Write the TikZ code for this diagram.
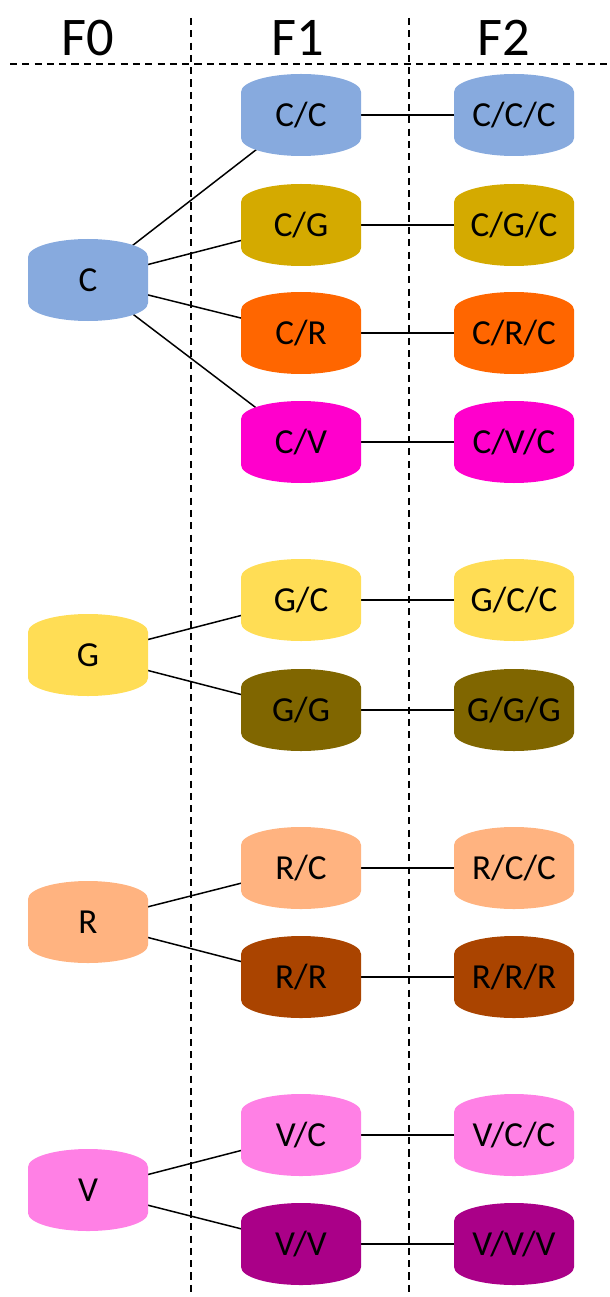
\documentclass[tikz,border=0pt]{standalone}
\usepackage{fontspec}
\setmainfont{Carlito}
\usetikzlibrary{backgrounds}
\definecolor{cC}{HTML}{87AADE}
\definecolor{cG}{HTML}{FFDD55}
\definecolor{cR}{HTML}{FFB380}
\definecolor{cV}{HTML}{FF80E5}
\definecolor{cCG}{HTML}{D4AA00}
\definecolor{cCR}{HTML}{FF6600}
\definecolor{cCV}{HTML}{FF00CC}
\definecolor{cGG}{HTML}{806600}
\definecolor{cRR}{HTML}{AA4400}
\definecolor{cVV}{HTML}{AA0088}
\tikzset{
 barrel/.pic={\path[pic actions] (-60,-23) .. controls (-60,-33) and (-33,-41) .. (0,-41)
  .. controls (33,-41) and (60,-33) .. (60,-23) -- (60,23)
  .. controls (60,33) and (33,41) .. (0,41)
  .. controls (-33,41) and (-60,33) .. (-60,23) -- cycle;},
 cell/.style={rectangle,minimum width=2.4cm,minimum height=1.64cm,inner sep=0pt,
  font=\fontsize{20}{22}\selectfont},
 head/.style={font=\fontsize{31}{34}\selectfont},
 link/.style={line width=0.85pt},
 sep/.style={line width=1.1pt,dash pattern=on 4pt off 3pt}
}
\begin{document}
\begin{tikzpicture}[x=0.02cm,y=-0.02cm]
 \useasboundingbox (0,0) rectangle (609,1297);
 \draw[sep](10,64)--(609,64);
 \draw[sep](191,18)--(191,1297);
 \draw[sep](409,18)--(409,1297);
 \node[head] (h0) at (88,38) {F0};
 \node[head] (h1) at (298,38) {F1};
 \node[head] (h2) at (504,38) {F2};

 \foreach \n/\x/\y/\c/\t in {c/88/280/cC/C, g/88/655/cG/G, r/88/922/cR/R, v/88/1190/cV/V,
  cc/301/115/cC/C\slash C, cg/301/225/cCG/C\slash G, cr/301/333/cCR/C\slash R,
  cv/301/442/cCV/C\slash V, gc/301/600/cG/G\slash C, gg/301/710/cGG/G\slash G,
  rc/301/868/cR/R\slash C, rr/301/977/cRR/R\slash R, vc/301/1135/cV/V\slash C,
  vv/301/1244/cVV/V\slash V,
  ccc/514/115/cC/C\slash C\slash C, cgc/514/225/cCG/C\slash G\slash C,
  crc/514/333/cCR/C\slash R\slash C, cvc/514/442/cCV/C\slash V\slash C,
  gcc/514/600/cG/G\slash C\slash C, ggg/514/710/cGG/G\slash G\slash G,
  rcc/514/868/cR/R\slash C\slash C, rrr/514/977/cRR/R\slash R\slash R,
  vcc/514/1135/cV/V\slash C\slash C, vvv/514/1244/cVV/V\slash V\slash V}
 {
  \pic[fill=\c] at (\x,\y) {barrel};
  \node[cell] (\n) at (\x,\y) {\t};
 }

 \begin{scope}[on background layer]
 \foreach \a/\b in {c/cc,c/cg,c/cr,c/cv,g/gc,g/gg,r/rc,r/rr,v/vc,v/vv,
  cc/ccc,cg/cgc,cr/crc,cv/cvc,gc/gcc,gg/ggg,rc/rcc,rr/rrr,vc/vcc,vv/vvv}
  \draw[link](\a.center)--(\b.center);
 \end{scope}
\end{tikzpicture}
\end{document}
